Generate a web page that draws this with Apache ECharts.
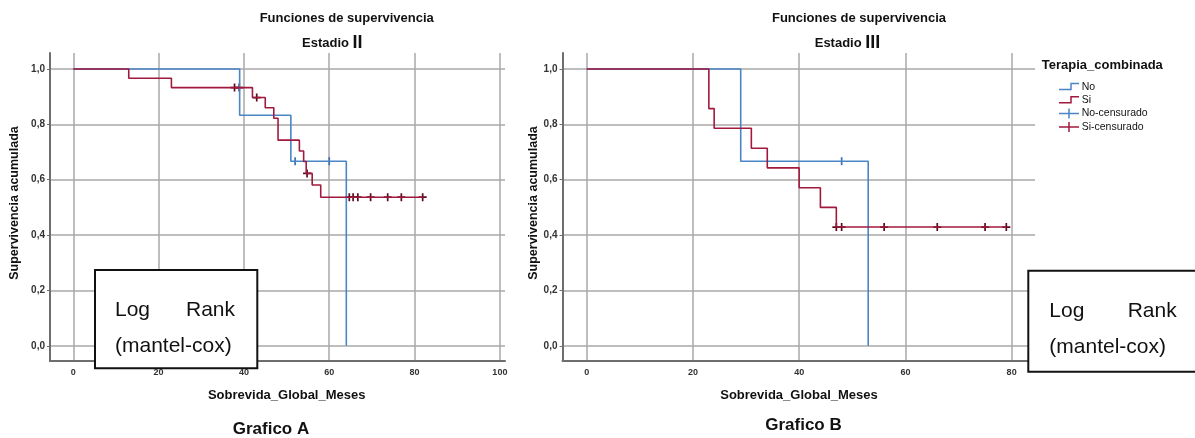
<!DOCTYPE html>
<html><head><meta charset="utf-8">
<script src="https://cdn.jsdelivr.net/npm/echarts@6/dist/echarts.min.js"></script>
<style>html,body{margin:0;padding:0;background:#fff}#c{width:1195px;height:438px}</style>
</head><body><div id="c"></div>
<script>
// ---------------- data ----------------
const yTicks = [0, 0.2, 0.4, 0.6, 0.8, 1.0];
const xTicksA = [0, 20, 40, 60, 80, 100];
const xTicksB = [0, 20, 40, 60, 80];
const seriesNames = ['No', 'Si', 'No-censurado', 'Si-censurado'];

// Estadio II  (Grafico A)
const noTimeA = [0, 39, 51, 64];
const noSurvA = [1, 0.833, 0.667, 0];
const noCensTimeA = [52, 60];
const noCensSurvA = [0.667, 0.667];
const siTimeA = [0, 13, 23, 42, 45, 47, 48, 53, 54, 54.6, 56, 58, 82];
const siSurvA = [1, 0.967, 0.933, 0.897, 0.86, 0.822, 0.743, 0.704, 0.666, 0.623, 0.581, 0.537, 0.537];
const siCensTimeA = [37.8, 38.9, 43, 54.8, 64.7, 65.6, 66.7, 69.7, 73.7, 76.9, 81.9];
const siCensSurvA = [0.933, 0.933, 0.897, 0.623, 0.537, 0.537, 0.537, 0.537, 0.537, 0.537, 0.537];

// Estadio III (Grafico B)
const noTimeB = [0, 29, 53];
const noSurvB = [1, 0.667, 0];
const noCensTimeB = [48];
const noCensSurvB = [0.667];
const siTimeB = [0, 23, 24, 31, 34, 40, 44, 47, 79];
const siSurvB = [1, 0.857, 0.786, 0.714, 0.643, 0.571, 0.5, 0.429, 0.429];
const siCensTimeB = [47, 48, 56, 66, 75, 79];
const siCensSurvB = [0.429, 0.429, 0.429, 0.429, 0.429, 0.429];

// ---------------- styles ----------------
const FONT = '"Liberation Sans", Arial, sans-serif';
const BLUE = '#4a85c6';
const RED = '#a11a3e';
const RED_CENS = '#5a0c1f';
const BLUE_CENS = '#3a72b6';
const GRIDC = '#a8a8a8';
const AXISC = '#6e6e6e';
const PLUS = 'path://M5,0L5,10M0,5L10,5';
const VBAR = 'path://M5,0L5,10M0,5L0,5M10,5L10,5';

const zip = (a, b) => a.map((v, i) => [v, b[i]]);
const fmtY = v => v.toFixed(1).replace('.', ',');

function xAxisCfg(gi, min, max, ticks) {
  return {
    type: 'value', gridIndex: gi, min: min, max: max,
    axisLine: { show: true, onZero: false, lineStyle: { color: AXISC, width: 2 } },
    axisTick: { show: false, customValues: ticks },
    axisLabel: { customValues: ticks, margin: 7, fontSize: 9, fontWeight: 'bold', color: '#333', fontFamily: FONT },
    splitLine: { show: true, lineStyle: { color: GRIDC, width: 1.5 } }
  };
}
function yAxisCfg(gi) {
  return {
    type: 'value', gridIndex: gi, min: -0.055, max: 1.058,
    axisLine: { show: true, onZero: false, lineStyle: { color: AXISC, width: 2 } },
    axisTick: { show: true, length: 3, customValues: yTicks, lineStyle: { color: AXISC } },
    axisLabel: { customValues: yTicks, formatter: fmtY, margin: 5, fontSize: 10, fontWeight: 'bold', color: '#333', fontFamily: FONT },
    splitLine: { show: true, lineStyle: { color: GRIDC, width: 1.5 } }
  };
}
function curve(name, gi, t, s, color) {
  return { name: name, type: 'line', step: 'end', xAxisIndex: gi, yAxisIndex: gi,
    data: zip(t, s), showSymbol: false, symbol: 'none',
    lineStyle: { color: color, width: 1.6 }, itemStyle: { color: color }, silent: true };
}
function cens(name, gi, t, s, color, sym, size) {
  return { name: name, type: 'scatter', xAxisIndex: gi, yAxisIndex: gi,
    data: zip(t, s), symbol: sym, symbolSize: size,
    itemStyle: { color: 'rgba(0,0,0,0)', borderColor: color, borderWidth: 1.7, opacity: 1 }, silent: true };
}

// ---------------- graphic texts / boxes / legend ----------------
function txt(x, y, text, font, align, extra) {
  return Object.assign({ type: 'text', z: 100,
    style: { x: x, y: y, text: text, font: font, fill: '#111', align: align || 'center', verticalAlign: 'middle' } }, extra || {});
}
function logRankBox(x, y, w, h, tx, tr, y1, y2) {
  return [
    { type: 'rect', z: 90, shape: { x: x, y: y, width: w, height: h }, style: { fill: '#fff', stroke: '#111', lineWidth: 2 } },
    txt(tx, y1, 'Log', '21px ' + FONT, 'left'),
    txt(tr, y1, 'Rank', '21px ' + FONT, 'right'),
    txt(tx, y2, '(mantel-cox)', '21px ' + FONT, 'left')
  ];
}
function stepIcon(x, y, color) {
  return { type: 'polyline', z: 100, shape: { points: [[x, y + 3], [x + 12, y + 3], [x + 12, y - 3], [x + 20, y - 3]] },
    style: { stroke: color, lineWidth: 1.5, fill: null } };
}
function censIcon(x, y, color) {
  return [
    { type: 'line', z: 100, shape: { x1: x, y1: y, x2: x + 20, y2: y }, style: { stroke: color, lineWidth: 1.5 } },
    { type: 'line', z: 100, shape: { x1: x + 10, y1: y - 5, x2: x + 10, y2: y + 5 }, style: { stroke: color, lineWidth: 1.5 } }
  ];
}

const titleFont = 'bold 13px ' + FONT;
const stadioRich = { big: { font: 'bold 18px ' + FONT, fill: '#111' } };
const graphics = [
  txt(346.7, 18, 'Funciones de supervivencia', titleFont),
  { type: 'text', z: 100, style: { x: 332.3, y: 43, text: 'Estadio {big|II}', font: titleFont, fill: '#111', align: 'center', verticalAlign: 'middle', rich: stadioRich } },
  txt(859, 18, 'Funciones de supervivencia', titleFont),
  { type: 'text', z: 100, style: { x: 847.5, y: 43, text: 'Estadio {big|III}', font: titleFont, fill: '#111', align: 'center', verticalAlign: 'middle', rich: stadioRich } },
  txt(15, 203, 'Supervivencia acumulada', 'bold 12.5px ' + FONT, 'center', { rotation: Math.PI / 2 }),
  txt(533.3, 203, 'Supervivencia acumulada', 'bold 12.5px ' + FONT, 'center', { rotation: Math.PI / 2 }),
  txt(286.7, 395, 'Sobrevida_Global_Meses', 'bold 13px ' + FONT),
  txt(799, 395, 'Sobrevida_Global_Meses', 'bold 13px ' + FONT),
  txt(271, 429, 'Grafico A', 'bold 17px ' + FONT),
  txt(803.5, 425, 'Grafico B', 'bold 17px ' + FONT),
  // legend
  txt(1041.7, 65, 'Terapia_combinada', 'bold 13px ' + FONT, 'left'),
  stepIcon(1059, 86.5, BLUE),
  txt(1081.7, 86.7, seriesNames[0], '10.5px ' + FONT, 'left'),
  stepIcon(1059, 99.8, RED),
  txt(1081.7, 100, seriesNames[1], '10.5px ' + FONT, 'left'),
  ...censIcon(1059, 113.5, BLUE),
  txt(1081.7, 113, seriesNames[2], '10.5px ' + FONT, 'left'),
  ...censIcon(1059, 127, RED),
  txt(1081.7, 127.3, seriesNames[3], '10.5px ' + FONT, 'left'),
  ...logRankBox(95, 270, 162.3, 98.3, 115, 235, 310, 346.7),
  ...logRankBox(1028.3, 270.7, 200, 101, 1049.3, 1176.7, 311, 347.7)
];
// rotated texts: rotate around their own anchor point
graphics.forEach(g => {
  if (g.rotation) {
    g.x = g.style.x; g.y = g.style.y; g.style.x = 0; g.style.y = 0;
  }
});

const chart = echarts.init(document.getElementById('c'), null, { renderer: 'canvas' });
chart.setOption({
  animation: false,
  backgroundColor: '#fff',
  textStyle: { fontFamily: FONT },
  grid: [
    { left: 50, top: 53, width: 455, height: 308 },
    { left: 562.5, top: 53, width: 472.5, height: 308 }
  ],
  xAxis: [ xAxisCfg(0, -5.46, 101.2, xTicksA), xAxisCfg(1, -4.55, 84.4, xTicksB) ],
  yAxis: [ yAxisCfg(0), yAxisCfg(1) ],
  series: [
    curve(seriesNames[0], 0, noTimeA, noSurvA, BLUE),
    curve(seriesNames[1], 0, siTimeA, siSurvA, RED),
    cens(seriesNames[2], 0, noCensTimeA, noCensSurvA, BLUE_CENS, VBAR, [8, 8]),
    cens(seriesNames[3], 0, siCensTimeA, siCensSurvA, RED_CENS, PLUS, [8, 8]),
    curve(seriesNames[0], 1, noTimeB, noSurvB, BLUE),
    curve(seriesNames[1], 1, siTimeB, siSurvB, RED),
    cens(seriesNames[2], 1, noCensTimeB, noCensSurvB, BLUE_CENS, VBAR, [8, 8]),
    cens(seriesNames[3], 1, siCensTimeB, siCensSurvB, RED_CENS, PLUS, [8, 8])
  ],
  graphic: { elements: graphics }
});
</script>
</body></html>
